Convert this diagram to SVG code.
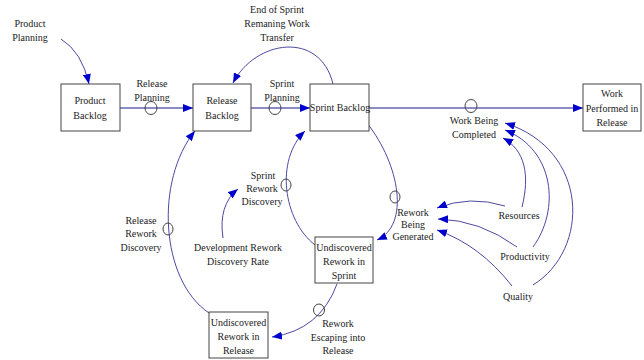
<svg xmlns="http://www.w3.org/2000/svg" width="644" height="360" viewBox="0 0 644 360">
<style>
.box{fill:#fff;stroke:#444;stroke-width:1}
.flow{fill:none;stroke:#1a1a8c;stroke-width:1.2}
.link{fill:none;stroke:#4a4aa0;stroke-width:1}
.valve{fill:none;stroke:#444;stroke-width:1}
text{font-family:"Liberation Serif","Times New Roman",serif;font-size:10px;fill:#222;text-anchor:middle}
</style>
<defs>
<marker id="ah" markerUnits="userSpaceOnUse" markerWidth="10" markerHeight="8" refX="10" refY="4" orient="auto">
<path d="M0,0 L10,4 L0,8 z" fill="#0000cc"/>
</marker>
</defs>
<rect width="644" height="360" fill="#fff"/>
<g id="connectors">
<path class="flow" d="M120,108 H193" marker-end="url(#ah)"/>
<path class="flow" d="M251,108 H310" marker-end="url(#ah)"/>
<path class="flow" d="M369,108 H583" marker-end="url(#ah)"/>
<path class="link" d="M61,39 Q82,52 89,84" marker-end="url(#ah)"/>
<path class="link" d="M333,84 C320,30 255,40 233,83" marker-end="url(#ah)"/>
<path class="link" d="M315,245 C283,220 275,160 305,131" marker-end="url(#ah)"/>
<path class="link" d="M209,313 C160,280 155,180 195,131" marker-end="url(#ah)"/>
<path class="link" d="M367,123 C400,165 410,225 377,240" marker-end="url(#ah)"/>
<path class="link" d="M337,284 Q320,330 272,337" marker-end="url(#ah)"/>
<path class="link" d="M223,238 Q218,205 238,189" marker-end="url(#ah)"/>
<path class="link" d="M505,206 Q470,195 437,208" marker-end="url(#ah)"/>
<path class="link" d="M517,247 Q480,220 438,219" marker-end="url(#ah)"/>
<path class="link" d="M512,286 Q480,245 437,230" marker-end="url(#ah)"/>
<path class="link" d="M522,207 C530,175 525,150 503,138" marker-end="url(#ah)"/>
<path class="link" d="M533,247 C560,210 555,150 505,130" marker-end="url(#ah)"/>
<path class="link" d="M533,285 C590,250 590,150 505,123" marker-end="url(#ah)"/>
</g>
<g id="valves">
<ellipse class="valve" cx="151" cy="108" rx="6" ry="6.5" fill="#fff"/>
<ellipse class="valve" cx="275" cy="108" rx="6" ry="6.5"/>
<ellipse class="valve" cx="471" cy="106" rx="6" ry="6.5"/>
<ellipse class="valve" cx="286" cy="185" rx="5" ry="6"/>
<ellipse class="valve" cx="168" cy="229" rx="5" ry="6"/>
<ellipse class="valve" cx="395" cy="197" rx="5" ry="6"/>
<ellipse class="valve" cx="319" cy="310" rx="5.5" ry="6"/>
</g>
<g id="product-planning"><text x="30" y="27">Product</text><text x="30" y="41">Planning</text></g>
<g id="product-backlog"><rect class="box" x="61" y="84" width="59" height="47"/><text x="90" y="104">Product</text><text x="90" y="119">Backlog</text></g>
<g id="release-planning"><text x="152" y="87">Release</text><text x="152" y="101">Planning</text></g>
<g id="release-backlog"><rect class="box" x="193" y="84" width="58" height="47"/><text x="222" y="104">Release</text><text x="222" y="119">Backlog</text></g>
<g id="sprint-planning"><text x="282" y="87">Sprint</text><text x="282" y="101">Planning</text></g>
<g id="sprint-backlog"><rect class="box" x="310" y="84" width="59" height="47"/><text x="340" y="111">Sprint Backlog</text></g>
<g id="end-of-sprint"><text x="277" y="13">End of Sprint</text><text x="277" y="27">Remaning Work</text><text x="277" y="41">Transfer</text></g>
<g id="work-performed"><rect class="box" x="583" y="84" width="58" height="47"/><text x="612" y="97">Work</text><text x="612" y="112">Performed in</text><text x="612" y="126">Release</text></g>
<g id="work-being-completed"><text x="474" y="124">Work Being</text><text x="474" y="138">Completed</text></g>
<g id="sprint-rework-discovery"><text x="263" y="179">Sprint</text><text x="262" y="192">Rework</text><text x="262" y="205">Discovery</text></g>
<g id="dev-rework-rate"><text x="238" y="251">Development Rework</text><text x="238" y="265">Discovery Rate</text></g>
<g id="release-rework-discovery"><text x="141" y="224">Release</text><text x="141" y="237">Rework</text><text x="141" y="251">Discovery</text></g>
<g id="rework-being-generated"><text x="413" y="216">Rework</text><text x="413" y="228">Being</text><text x="413" y="240">Generated</text></g>
<g id="undiscovered-sprint"><rect class="box" x="315" y="237" width="58" height="46"/><text x="344" y="251">Undiscovered</text><text x="344" y="265">Rework in</text><text x="344" y="279">Sprint</text></g>
<g id="undiscovered-release"><rect class="box" x="209" y="312" width="59" height="46"/><text x="238.5" y="326">Undiscovered</text><text x="238.5" y="340">Rework in</text><text x="238.5" y="354">Release</text></g>
<g id="rework-escaping"><text x="338" y="327">Rework</text><text x="338" y="341">Escaping into</text><text x="338" y="354">Release</text></g>
<g id="resources"><text x="519" y="219">Resources</text></g>
<g id="productivity"><text x="525" y="260">Productivity</text></g>
<g id="quality"><text x="518" y="300">Quality</text></g>
</svg>
